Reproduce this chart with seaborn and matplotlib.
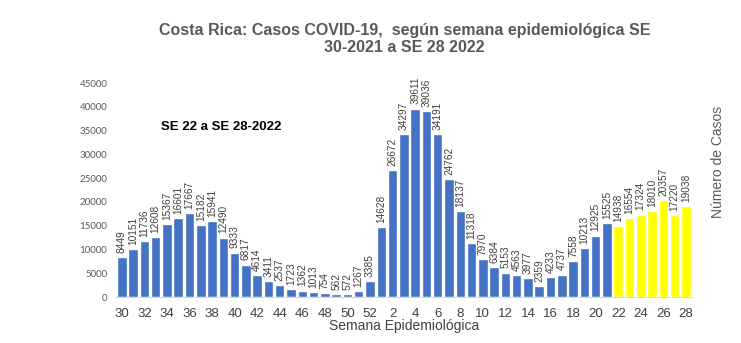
import matplotlib
matplotlib.use("Agg")
import matplotlib.pyplot as plt
import seaborn as sns
import pandas as pd

weeks = [30, 31, 32, 33, 34, 35, 36, 37, 38, 39, 40, 41, 42, 43, 44, 45, 46, 47, 48, 49, 50, 51, 52,
         1, 2, 3, 4, 5, 6, 7, 8, 9, 10, 11, 12, 13, 14, 15, 16, 17, 18, 19, 20, 21,
         22, 23, 24, 25, 26, 27, 28]
years = [2021] * 23 + [2022] * 28
casos = [8449, 10151, 11736, 12608, 15367, 16601, 17667, 15182, 15941, 12490, 9333, 6817, 4614,
         3411, 2537, 1723, 1362, 1013, 754, 562, 572, 1267, 3385,
         14628, 26672, 34297, 39611, 39036, 34191, 24762, 18137, 11318, 7970, 6384, 5153, 4563,
         3977, 2359, 4233, 4737, 7558, 10213, 12925, 15525,
         14938, 16554, 17324, 18010, 20357, 17220, 19038]
grupo = ["anterior"] * 44 + ["SE 22-28 2022"] * 7
colores = {"anterior": "#4472C4", "SE 22-28 2022": "#FFFF00"}
yticks = list(range(0, 45001, 5000))

df = pd.DataFrame({
    "semana": [f"{y}-{w:02d}" for y, w in zip(years, weeks)],
    "casos": casos,
    "grupo": grupo,
})

sns.set_theme(style="white")
fig = plt.figure(figsize=(7.41, 3.43), dpi=100)
ax = fig.add_axes([0.156, 0.134, 0.778, 0.624])

sns.barplot(data=df, x="semana", y="casos", hue="grupo", palette=colores,
            dodge=False, width=0.84, legend=False, ax=ax, saturation=1)

for cont in ax.containers:
    ax.bar_label(cont, labels=[f"{int(v)}" if v == v else "" for v in cont.datavalues],
                 rotation=90, padding=3, fontsize=7.3, color="#404040",
                 family="Liberation Sans", clip_on=False)

ax.set_xlim(-0.55, len(casos) - 0.45)
ax.set_ylim(0, 45000)
ax.set_yticks(yticks)
ax.set_yticklabels([str(t) for t in yticks], fontsize=7, color="#595959", family="Lato")
tick_pos = list(range(0, len(weeks), 2))
ax.set_xticks(tick_pos)
ax.set_xticklabels([str(weeks[i]) for i in tick_pos], fontsize=9.5, color="#404040",
                   family="Liberation Sans")
ax.tick_params(axis="x", length=0, pad=8)
ax.tick_params(axis="y", length=0, pad=6)

for s in ["top", "right", "left"]:
    ax.spines[s].set_visible(False)
ax.spines["bottom"].set_color("#D9D9D9")
ax.spines["bottom"].set_linewidth(0.8)
ax.grid(False)

ax.set_xlabel("Semana Epidemiológica", fontsize=10, color="#404040",
              family="Liberation Sans", labelpad=-1)
ax.set_ylabel("")
fig.text(0.969, 0.527, "Número de Casos", rotation=90, ha="center", va="center",
         fontsize=10, color="#595959", family="Liberation Sans")

fig.text(0.546, 0.912, "Costa Rica: Casos COVID-19,  según semana epidemiológica SE",
         ha="center", va="center", fontsize=11.5, fontweight="bold", color="#595959",
         family="Liberation Sans")
fig.text(0.546, 0.862, "30-2021 a SE 28 2022", ha="center", va="center", fontsize=11.5,
         fontweight="bold", color="#595959", family="Liberation Sans")

ax.text(3.5, 35700, "SE 22 a SE 28-2022", fontsize=9.5, fontweight="bold", color="black",
        family="Liberation Sans", va="center")

fig.savefig("out.png", dpi=100, facecolor="white")
